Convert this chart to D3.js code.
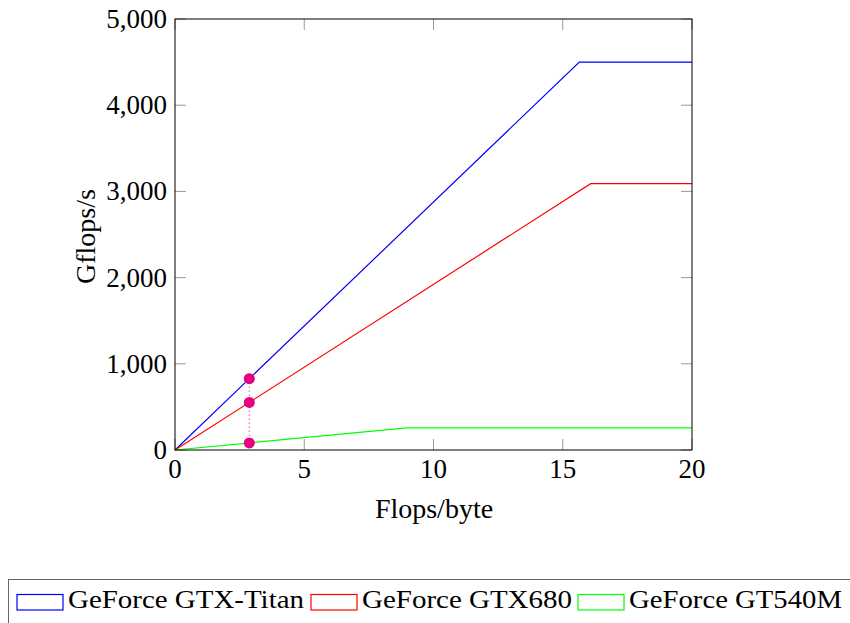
<!DOCTYPE html>
<html>
<head>
<meta charset="utf-8">
<script src="https://cdn.jsdelivr.net/npm/d3@7"></script>
<style>
  body { margin: 0; background: #fff; }
</style>
</head>
<body>
<div id="chart"></div>
<script>
var svgWidth = 850;
var svgHeight = 623;

var margin = { top: 19, right: 158, bottom: 173, left: 175 };
var width = svgWidth - margin.left - margin.right;
var height = svgHeight - margin.top - margin.bottom;

// Roofline data: peak point where bandwidth line meets compute ceiling
var seriesNames = ["GeForce GTX-Titan", "GeForce GTX680", "GeForce GT540M"];
var seriesColors = ["#0000ff", "#ff0000", "#00ff00"];
var titanPts = [[0, 0], [15.64, 4500], [20, 4500]];
var gtx680Pts = [[0, 0], [16.08, 3090], [20, 3090]];
var gt540Pts = [[0, 0], [8.96, 256], [20, 256]];
var markX = 2.875;
var markY = [827, 552, 82];
var xTicks = [0, 5, 10, 15, 20];
var yTicks = [0, 1000, 2000, 3000, 4000, 5000];

var svg = d3.select("#chart")
  .append("svg")
  .attr("width", svgWidth)
  .attr("height", svgHeight)
  .attr("font-family", "'Liberation Serif', 'Times New Roman', Times, 'DejaVu Serif', serif");

var chartGroup = svg.append("g")
  .attr("transform", `translate(${margin.left}, ${margin.top})`);

var x = d3.scaleLinear().domain([0, 20]).range([0, width]);
var y = d3.scaleLinear().domain([0, 5000]).range([height, 0]);

// inward ticks on all four sides
var tickLen = 11;
var tickG = chartGroup.append("g").attr("stroke", "#999").attr("stroke-width", 1);
xTicks.forEach(t => {
  tickG.append("line").attr("x1", x(t)).attr("x2", x(t)).attr("y1", height).attr("y2", height - tickLen);
  tickG.append("line").attr("x1", x(t)).attr("x2", x(t)).attr("y1", 0).attr("y2", tickLen);
});
yTicks.forEach(t => {
  tickG.append("line").attr("x1", 0).attr("x2", tickLen).attr("y1", y(t)).attr("y2", y(t));
  tickG.append("line").attr("x1", width).attr("x2", width - tickLen).attr("y1", y(t)).attr("y2", y(t));
});

// tick labels
chartGroup.selectAll(".xlab")
  .data(xTicks)
  .enter().append("text")
  .attr("x", d => x(d))
  .attr("y", height + 28)
  .attr("text-anchor", "middle")
  .attr("font-size", 27)
  .text(d => d);

chartGroup.selectAll(".ylab")
  .data(yTicks)
  .enter().append("text")
  .attr("x", -8)
  .attr("y", d => y(d) + 9)
  .attr("text-anchor", "end")
  .attr("font-size", 27)
  .text(d => d3.format(",")(d));

// lines
var line = d3.line().x(d => x(d[0])).y(d => y(d[1]));
[titanPts, gtx680Pts, gt540Pts].forEach((pts, i) => {
  chartGroup.append("path")
    .attr("d", line(pts))
    .attr("fill", "none")
    .attr("stroke", seriesColors[i])
    .attr("stroke-width", 1.2);
});

// dotted connector and markers
chartGroup.append("line")
  .attr("x1", x(markX)).attr("x2", x(markX))
  .attr("y1", y(markY[0])).attr("y2", y(markY[2]))
  .attr("stroke", "#e6007e")
  .attr("stroke-dasharray", "1,3");

chartGroup.selectAll("circle")
  .data(markY)
  .enter().append("circle")
  .attr("cx", x(markX))
  .attr("cy", d => y(d))
  .attr("r", 5.5)
  .attr("fill", "#e6007e");

// frame
chartGroup.append("rect")
  .attr("width", width).attr("height", height)
  .attr("fill", "none").attr("stroke", "#000").attr("stroke-width", 1);

// axis titles
chartGroup.append("text")
  .attr("transform", `translate(${-80}, ${height / 2 + 2}) rotate(-90)`)
  .attr("text-anchor", "middle")
  .attr("font-size", 28)
  .text("Gflops/s");

chartGroup.append("text")
  .attr("x", width / 2 + 0.5)
  .attr("y", height + 68)
  .attr("text-anchor", "middle")
  .attr("font-size", 28)
  .text("Flops/byte");

// legend
var legend = svg.append("g");
legend.append("rect")
  .attr("x", 8.5).attr("y", 579.5)
  .attr("width", 850).attr("height", 50)
  .attr("fill", "none").attr("stroke", "#666");

var legX = [17, 311, 578];
var legW = [236, 210, 213];
seriesNames.forEach((name, i) => {
  legend.append("rect")
    .attr("x", legX[i]).attr("y", 594.5)
    .attr("width", 46).attr("height", 15.5)
    .attr("fill", "none")
    .attr("stroke", seriesColors[i])
    .attr("stroke-width", 1.2);
  legend.append("text")
    .attr("x", legX[i] + 51)
    .attr("y", 608)
    .attr("font-size", 25)
    .attr("textLength", legW[i])
    .attr("lengthAdjust", "spacingAndGlyphs")
    .text(name);
});
</script>
</body>
</html>
